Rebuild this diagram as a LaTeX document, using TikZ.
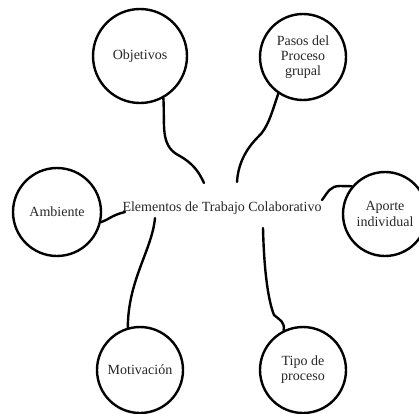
\documentclass[tikz,border=0pt]{standalone}
\usepackage{fontspec}
\setmainfont{Liberation Serif}
\begin{document}
\begin{tikzpicture}[x=1pt,y=-1pt,
  bubble/.style={circle,draw=black,line width=2.4pt,inner sep=0pt,align=center,
    text=black!85,font=\fontsize{14}{15.2}\selectfont},
  link/.style={line width=2.4pt,line cap=round,draw=black},
  centre/.style={inner sep=0pt,text=black!85,font=\fontsize{14}{15.2}\selectfont}]
\useasboundingbox (0,0) rectangle (419,413);
\node[bubble,minimum size=94pt] (obj) at (140,56) {Objetivos};
\node[bubble,minimum size=86pt] (pas) at (303,57) {Pasos del\\Proceso\\grupal};
\node[bubble,minimum size=88pt] (amb) at (57,212) {Ambiente};
\node[bubble,minimum size=84pt] (apo) at (385,214) {Aporte\\individual};
\node[bubble,minimum size=86pt] (mot) at (140,370) {Motivación};
\node[bubble,minimum size=86pt] (tip) at (303,370) {Tipo de\\proceso};
\node[centre] (cen) at (222,208) {Elementos de Trabajo Colaborativo};
\coordinate (eObj) at (204,183);
\coordinate (ePas) at (237,182);
\coordinate (eApo) at (322,200);
\coordinate (eAmb) at (125,212);
\coordinate (eMot) at (155,218);
\coordinate (eTip) at (263,228);
\draw[link] (obj.-61) .. controls (165,125) and (160,145) .. (178,155) .. controls (193,163) and (199,172) .. (eObj);
\draw[link] (pas.-124) .. controls (272,112) and (268,128) .. (258,137) .. controls (245,150) and (238,165) .. (ePas);
\draw[link] (eApo) .. controls (328,192) and (330,186) .. (340,186) -- (apo.140);
\draw[link] (amb.-13) .. controls (108,220) and (112,215) .. (eAmb);
\draw[link] (eMot) .. controls (152,250) and (128,280) .. (mot.106);
\draw[link] (eTip) .. controls (264,270) and (268,300) .. (274,315) .. controls (280,320) and (285,322) .. (tip.116);
\end{tikzpicture}
\end{document}
